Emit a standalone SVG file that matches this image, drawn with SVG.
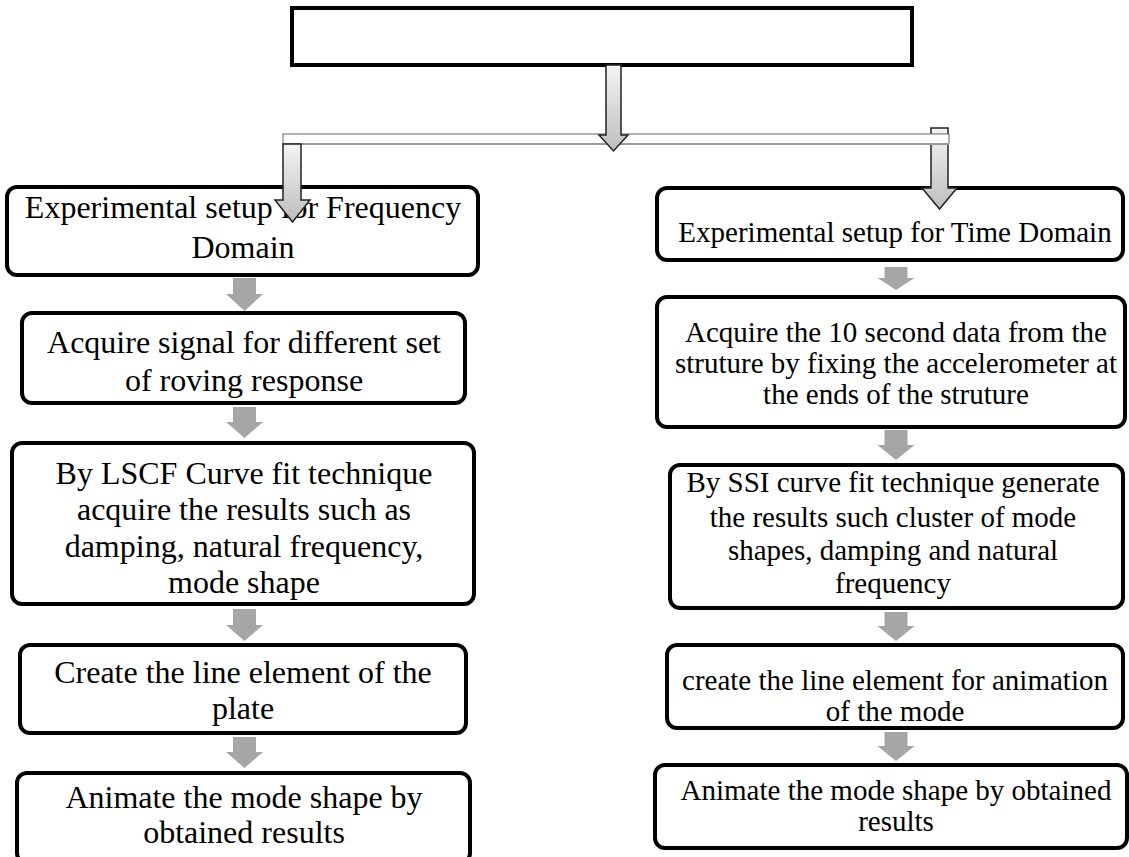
<svg xmlns="http://www.w3.org/2000/svg" width="1129" height="857" viewBox="0 0 1129 857">
<defs>
<style>
.box{fill:#fff;stroke:#000;stroke-width:4}
.tl{font-family:"Liberation Serif","Times New Roman",serif;font-size:32px;fill:#000;text-anchor:middle}
.tr{font-family:"Liberation Serif","Times New Roman",serif;font-size:29px;fill:#000;text-anchor:middle}
.sa{fill:#a6a6a6}
.ba{fill:url(#g);stroke:#222;stroke-width:1.5;stroke-linejoin:miter}
</style>
<linearGradient id="g" x1="0" y1="0" x2="0" y2="1">
<stop offset="0" stop-color="#f4f4f4"/>
<stop offset="1" stop-color="#bdbdbd"/>
</linearGradient>
</defs>
<rect width="1129" height="857" fill="#fff"/>
<g id="top"><rect x="292" y="8" width="620" height="57" fill="#fff" stroke="#000" stroke-width="4"/></g>
<g id="L1"><rect class="box" x="7" y="187" width="471" height="88" rx="10"/>
<text class="tl" x="243" y="218">Experimental setup for Frequency</text><text class="tl" x="243" y="258">Domain</text></g>
<g id="L2"><rect class="box" x="22" y="313" width="443" height="90" rx="10"/>
<text class="tl" x="244" y="353">Acquire signal for different set</text><text class="tl" x="244" y="391">of roving response</text></g>
<g id="L3"><rect class="box" x="12" y="443" width="462" height="161" rx="10"/>
<text class="tl" x="244" y="484">By LSCF Curve fit technique</text><text class="tl" x="244" y="520">acquire the results such as</text><text class="tl" x="244" y="557">damping, natural frequency,</text><text class="tl" x="244" y="593">mode shape</text></g>
<g id="L4"><rect class="box" x="20" y="645" width="446" height="88" rx="10"/>
<text class="tl" x="243" y="683">Create the line element of the</text><text class="tl" x="243" y="719">plate</text></g>
<g id="L5"><rect class="box" x="17" y="773" width="453" height="90" rx="10"/>
<text class="tl" x="244" y="808">Animate the mode shape by</text><text class="tl" x="244" y="843">obtained results</text></g>
<g id="R1"><rect class="box" x="657" y="188" width="466" height="72" rx="10"/>
<text class="tr" x="895" y="242">Experimental setup for Time Domain</text></g>
<g id="R2"><rect class="box" x="657" y="297" width="468" height="130" rx="10"/>
<text class="tr" x="896" y="342">Acquire the 10 second data from the</text><text class="tr" x="896" y="373">struture by fixing the accelerometer at</text><text class="tr" x="896" y="404">the ends of the struture</text></g>
<g id="R3"><rect class="box" x="670" y="465" width="453" height="143" rx="10"/>
<text class="tr" x="893" y="492">By SSI curve fit technique generate</text><text class="tr" x="893" y="527">the results such cluster of mode</text><text class="tr" x="893" y="560">shapes, damping and natural</text><text class="tr" x="893" y="593">frequency</text></g>
<g id="R4"><rect class="box" x="667" y="645" width="456" height="83" rx="10"/>
<text class="tr" x="895" y="690">create the line element for animation</text><text class="tr" x="895" y="721">of the mode</text></g>
<g id="R5"><rect class="box" x="655" y="765" width="472" height="83" rx="10"/>
<text class="tr" x="896" y="800">Animate the mode shape by obtained</text><text class="tr" x="896" y="831">results</text></g>
<g id="connectors">
<path class="ba" d="M931,128 H948 V188 H957 L939.5,209 L922,188 H931 Z"/>
<rect x="283" y="134" width="666" height="10" fill="#fff" stroke="#666" stroke-width="1"/>
<line x1="283" y1="144" x2="949" y2="144" stroke="#999" stroke-width="2"/>
<path class="ba" d="M606,65 H621 V135 H628 L613.5,151 L599,135 H606 Z"/>
<path class="ba" d="M283,144 H301 V200 H310 L292.5,222 L275,200 H283 Z"/>
<path class="sa" d="M233,278 H256 V294 H263 L244.5,311 L226,294 H233 Z"/>
<path class="sa" d="M233,407 H256 V422 H263 L244.5,438 L226,422 H233 Z"/>
<path class="sa" d="M233,609 H256 V625 H263 L244.5,641 L226,625 H233 Z"/>
<path class="sa" d="M233,737 H256 V752 H263 L244.5,768 L226,752 H233 Z"/>
<path class="sa" d="M884.5,267 H907.5 V278 H914.5 L896,290 L877.5,278 H884.5 Z"/>
<path class="sa" d="M884.5,430 H907.5 V445 H914.5 L896,460 L877.5,445 H884.5 Z"/>
<path class="sa" d="M884.5,612 H907.5 V626 H914.5 L896,641 L877.5,626 H884.5 Z"/>
<path class="sa" d="M884.5,732 H907.5 V746 H914.5 L896,761 L877.5,746 H884.5 Z"/>
</g>
</svg>
